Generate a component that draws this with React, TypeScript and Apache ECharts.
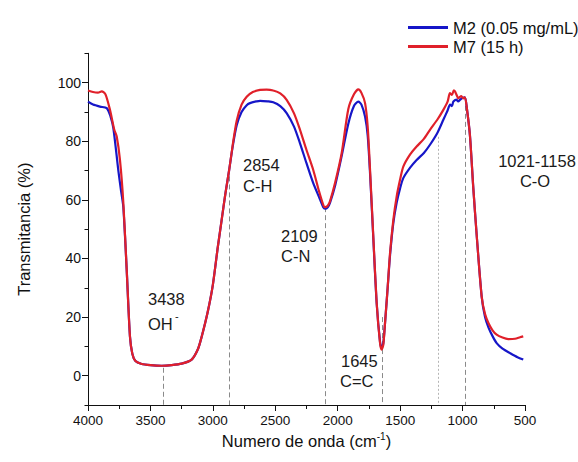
import React, { useEffect, useRef } from "react";
import * as echarts from "echarts";

const seriesNames = ["M2 (0.05 mg/mL)", "M7 (15 h)"];

const m7Wave = [4000, 3960, 3920, 3890, 3860, 3824, 3790, 3770, 3744, 3717, 3690, 3664, 3645, 3620, 3570, 3500, 3410, 3330, 3250, 3170, 3120, 3089, 3040, 3000, 2960, 2930, 2900, 2870, 2840, 2809, 2770, 2729, 2680, 2622, 2570, 2516, 2460, 2409, 2350, 2302, 2250, 2196, 2150, 2116, 2102, 2080, 2062, 2020, 1968, 1915, 1870, 1835, 1810, 1781, 1760, 1741, 1715, 1688, 1661, 1648, 1635, 1621, 1600, 1581, 1555, 1528, 1500, 1474, 1420, 1368, 1310, 1261, 1200, 1154, 1120, 1101, 1085, 1070, 1061, 1050, 1034, 1010, 995, 981, 965, 941, 914, 887, 847, 820, 793, 760, 727, 680, 634, 580, 540, 514];
const m7Trans = [97.3, 96.8, 96.6, 97.0, 96.0, 90.7, 84, 81.6, 73.6, 59, 36.1, 13.4, 7.5, 5.0, 4.0, 3.6, 3.4, 3.6, 4.1, 5.5, 9, 13.4, 22, 31, 44, 53, 62, 70, 79, 87, 92.5, 95.2, 96.8, 97.5, 97.6, 97.3, 96.3, 94.1, 89.5, 83.9, 77, 70.2, 63, 58.3, 57.5, 58, 59.5, 66, 76, 91, 96, 97.7, 96.5, 93, 85, 70.2, 47.5, 24.8, 11.1, 8.9, 10.5, 18, 30, 41.8, 53, 61.1, 67, 71.4, 75.5, 78.2, 80.8, 83.9, 87.5, 90.7, 93.5, 96.4, 95.8, 97.4, 97, 96.0, 94.7, 95.4, 94.6, 95, 91, 82, 64, 48, 27, 21, 18, 15.5, 14, 13, 12.5, 12.6, 13.1, 13.4];

const m2Wave = [4000, 3960, 3904, 3850, 3820, 3797, 3757, 3735, 3717, 3690, 3664, 3645, 3620, 3570, 3500, 3410, 3330, 3250, 3170, 3120, 3089, 3040, 3000, 2960, 2930, 2900, 2870, 2840, 2809, 2770, 2729, 2703, 2650, 2622, 2560, 2516, 2460, 2409, 2350, 2302, 2250, 2196, 2150, 2116, 2102, 2080, 2062, 2020, 1968, 1915, 1870, 1835, 1810, 1781, 1760, 1741, 1715, 1688, 1661, 1648, 1635, 1621, 1600, 1581, 1555, 1528, 1500, 1474, 1420, 1368, 1310, 1261, 1200, 1154, 1120, 1100, 1085, 1074, 1050, 1035, 1021, 1000, 981, 965, 941, 914, 887, 847, 820, 793, 760, 727, 680, 620, 560, 514];
const m2Trans = [93.5, 92.5, 91.8, 91.3, 88.5, 84.5, 70, 63, 57.5, 36.1, 13.4, 7.5, 5.0, 4.0, 3.6, 3.4, 3.6, 4.1, 5.5, 9, 13.4, 22, 31, 44, 53, 62, 70, 78.5, 85.5, 90, 92.3, 93, 93.6, 93.8, 93.6, 93.3, 92, 89.6, 85, 79.3, 72.5, 65.7, 61, 57.5, 57, 57.5, 59, 65, 75, 86, 92, 93.5, 92.5, 88.4, 82, 69, 47, 24.8, 11.5, 9.5, 11, 18, 30, 41, 52, 59, 64, 67.5, 71, 73.6, 76, 78.8, 83, 87.3, 90.5, 92.5, 92, 93.5, 94.2, 93.6, 94.1, 94.8, 95, 91, 82, 64, 48, 27, 20, 16.5, 13.5, 11.1, 9.2, 7.7, 6.3, 5.5];

// reference (dashed) lines: wavenumber, top value
const refWave = [3400, 2865, 2102, 1645, 1192, 975];
const refTop = [2.7, 68, 57.5, 20, 81.5, 94.8];
const refLight = [false, false, false, false, true, false];

const xTicks = { min: 500, max: 4000, step: 500 };
const yTicks = { min: 0, max: 100, step: 20 };
const yRange = { min: -10, max: 110 };

const FONT = '"Liberation Sans", Arial, sans-serif';

export default function App() {
  const ref = useRef<HTMLDivElement>(null);
  useEffect(() => {
    const chart = echarts.init(ref.current!, null, { renderer: "svg" });
    const m2Data = m2Wave.map((w, i) => [w, m2Trans[i]]);
    const m7Data = m7Wave.map((w, i) => [w, m7Trans[i]]);
    const markData = refWave.map((w, i) => [
      {
        coord: [w, refTop[i]],
        lineStyle: refLight[i]
          ? { color: "#b5b5b5", type: [2, 2], width: 1 }
          : { color: "#8a8a8a", type: [5, 3], width: 1 },
      },
      { coord: [w, yRange.min] },
    ]);
    const annot = (text: string, x: number, y: number, align = "left", size = 16.5) => ({
      type: "text",
      x,
      y,
      z: 100,
      style: {
        text,
        fill: "#1a1a1a",
        font: `${size}px ${FONT}`,
        align,
        verticalAlign: "middle",
      },
    });
    const option: any = {
      animation: false,
      textStyle: { fontFamily: FONT },
      legend: {
        orient: "vertical",
        left: 403,
        top: 13,
        itemGap: 0,
        itemWidth: 40,
        itemHeight: 3,
        icon: "rect",
        textStyle: { fontSize: 16.5, color: "#111", lineHeight: 19, fontFamily: FONT },
        data: seriesNames,
      },
      grid: [
        { left: 88, right: 53, top: 53.3, bottom: 57 },
        { left: 88, right: 53, top: 82.6, bottom: 86.3 },
      ],
      xAxis: [
        {
          type: "value",
          gridIndex: 0,
          min: xTicks.min,
          max: xTicks.max,
          interval: xTicks.step,
          inverse: true,
          name: "Numero de onda (cm{sup|-1})",
          nameLocation: "middle",
          nameGap: 25,
          nameTextStyle: {
            fontSize: 16.5,
            color: "#111",
            fontFamily: FONT,
            rich: { sup: { fontSize: 10, verticalAlign: "top", padding: [0, 0, 9, 0], fontFamily: FONT, color: "#111" } },
          },
          axisLine: { onZero: false, lineStyle: { color: "#111", width: 1 } },
          axisTick: { length: 6, lineStyle: { color: "#111" } },
          minorTick: { show: true, splitNumber: 2, length: 4, lineStyle: { color: "#111" } },
          axisLabel: { fontSize: 13.5, color: "#111", margin: 8, fontFamily: FONT, formatter: (v: number) => String(v) },
          splitLine: { show: false },
        },
        { type: "value", gridIndex: 1, min: xTicks.min, max: xTicks.max, inverse: true, show: false },
      ],
      yAxis: [
        {
          type: "value",
          gridIndex: 0,
          min: yRange.min,
          max: yRange.max,
          interval: 10,
          name: "Transmitancia (%)",
          nameLocation: "middle",
          nameGap: 56,
          nameTextStyle: { fontSize: 16.5, color: "#111", fontFamily: FONT },
          axisLine: { show: true, onZero: false, lineStyle: { color: "#111", width: 1 } },
          axisTick: { show: true, length: 3.5, lineStyle: { color: "#111" } },
          axisLabel: { show: false },
          splitLine: { show: false },
        },
        {
          type: "value",
          gridIndex: 1,
          min: yTicks.min,
          max: yTicks.max,
          interval: yTicks.step,
          axisLine: { show: false },
          axisTick: { show: true, length: 6, lineStyle: { color: "#111" } },
          axisLabel: { fontSize: 14, color: "#111", margin: 7, fontFamily: FONT, formatter: (v: number) => String(v) },
          splitLine: { show: false },
        },
      ],
      series: [
        {
          name: seriesNames[0],
          type: "line",
          xAxisIndex: 0,
          yAxisIndex: 0,
          data: m2Data,
          symbol: "none",
          smooth: 0.25,
          color: "#1616c8",
          lineStyle: { color: "#1616c8", width: 2.2 },
          z: 3,
        },
        {
          name: seriesNames[1],
          type: "line",
          xAxisIndex: 0,
          yAxisIndex: 0,
          data: m7Data,
          symbol: "none",
          smooth: 0.25,
          color: "#e0202a",
          lineStyle: { color: "#e0202a", width: 2.2 },
          z: 4,
          markLine: {
            silent: true,
            symbol: "none",
            label: { show: false },
            animation: false,
            data: markData,
            z: 1,
          },
        },
      ],
      graphic: [
        annot("3438", 148, 299),
        annot("OH", 148, 324),
        annot("-", 175, 316, "left", 11),
        annot("2854", 243, 165),
        annot("C-H", 243, 186),
        annot("2109", 281, 236),
        annot("C-N", 281, 256),
        annot("1645", 341, 361),
        annot("C=C", 340, 381),
        annot("1021-1158", 537, 161, "center"),
        annot("C-O", 535, 181, "center"),
      ],
    };
    chart.setOption(option);
    return () => chart.dispose();
  }, []);
  return <div ref={ref} style={{ position: "absolute", left: 0, top: 0, width: 578, height: 462 }} />;
}
